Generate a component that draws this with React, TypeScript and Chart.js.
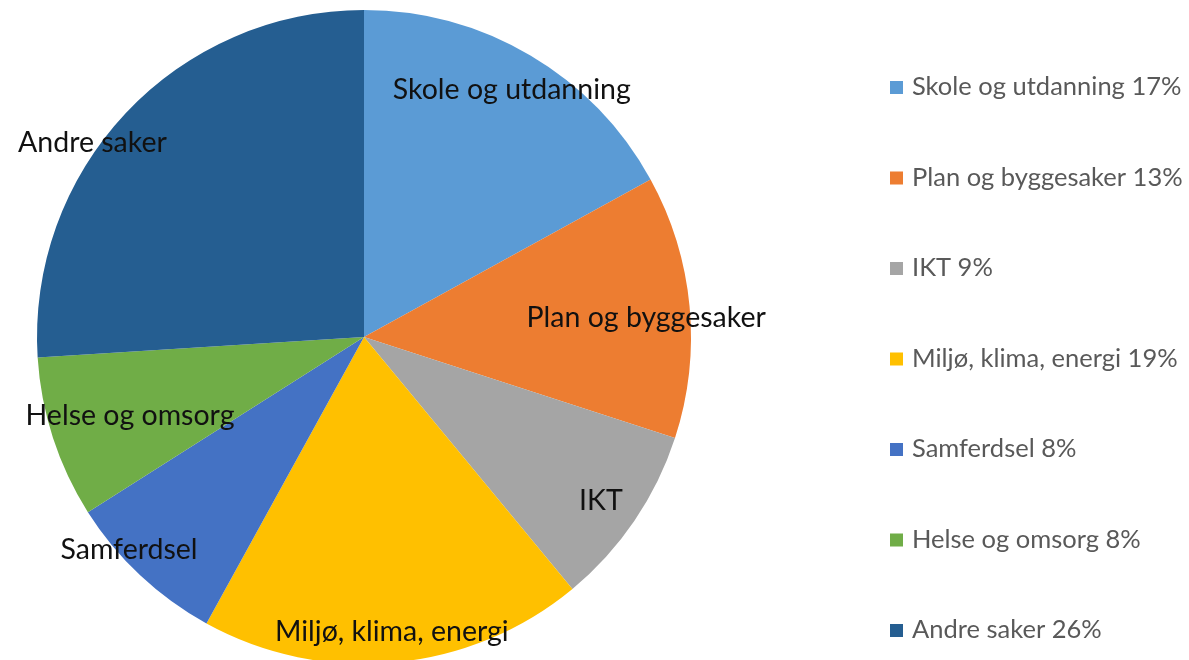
import React, { useEffect, useRef } from "react";
import { Chart, registerables } from "chart.js";

Chart.register(...registerables);

const categories = [
  "Skole og utdanning",
  "Plan og byggesaker",
  "IKT",
  "Miljø, klima, energi",
  "Samferdsel",
  "Helse og omsorg",
  "Andre saker",
];
const shares = [17, 13, 9, 19, 8, 8, 26];
const colors = ["#5B9BD5", "#ED7D31", "#A5A5A5", "#FFC000", "#4472C4", "#70AD47", "#255E91"];

// label placement style (radius fraction, angle offset in degrees)
const labelRadius = [0.88, 0.865, 0.88, 0.905, 0.97, 0.755, 1.02];
const labelAngleOffset = [0.3, 1.5, 0.4, 0, 4.6, -0.6, -7.7];

const FONT = "Lato, 'Open Sans', sans-serif";

const sliceLabels = {
  id: "sliceLabels",
  afterDatasetsDraw(chart: any) {
    const ctx = chart.ctx;
    const meta = chart.getDatasetMeta(0);
    ctx.save();
    ctx.font = `28.5px ${FONT}`;
    ctx.fillStyle = "#111111";
    ctx.textAlign = "center";
    ctx.textBaseline = "middle";
    meta.data.forEach((arc: any, i: number) => {
      const p = arc.getProps(["x", "y", "startAngle", "endAngle", "outerRadius"], true);
      const mid = (p.startAngle + p.endAngle) / 2 + (labelAngleOffset[i] * Math.PI) / 180;
      const r = p.outerRadius * labelRadius[i];
      ctx.fillText(chart.data.labels[i], p.x + Math.cos(mid) * r, p.y + Math.sin(mid) * r);
    });
    ctx.restore();
  },
};

const sideLegend = {
  id: "sideLegend",
  afterDraw(chart: any) {
    const ctx = chart.ctx;
    const ds = chart.data.datasets[0];
    const x = 890;
    const y0 = 87;
    const step = 90.5;
    ctx.save();
    ctx.font = `25.5px ${FONT}`;
    ctx.textBaseline = "middle";
    ctx.textAlign = "left";
    chart.data.labels.forEach((lab: string, i: number) => {
      const y = y0 + i * step;
      ctx.fillStyle = ds.backgroundColor[i];
      ctx.fillRect(x, y - 6, 13, 13);
      ctx.fillStyle = "#595959";
      ctx.fillText(`${lab} ${ds.data[i]}%`, x + 22, y);
    });
    ctx.restore();
  },
};

export default function App() {
  const ref = useRef<HTMLCanvasElement | null>(null);
  useEffect(() => {
    if (!ref.current) return;
    const chart = new Chart(ref.current, {
      type: "pie",
      data: {
        labels: categories,
        datasets: [
          {
            data: shares,
            backgroundColor: colors,
            borderWidth: 0,
          },
        ],
      },
      options: {
        responsive: false,
        animation: false,
        layout: { padding: { top: 10, bottom: 10, left: 0, right: 461 } },
        plugins: {
          legend: { display: false },
          tooltip: { enabled: false },
        },
      },
      plugins: [sliceLabels, sideLegend],
    });
    return () => chart.destroy();
  }, []);
  return (
    <div style={{ position: "fixed", left: 0, top: 0, width: 1189, height: 674, background: "#fff" }}>
      <canvas ref={ref} width={1189} height={674} style={{ width: 1189, height: 674 }} />
    </div>
  );
}
